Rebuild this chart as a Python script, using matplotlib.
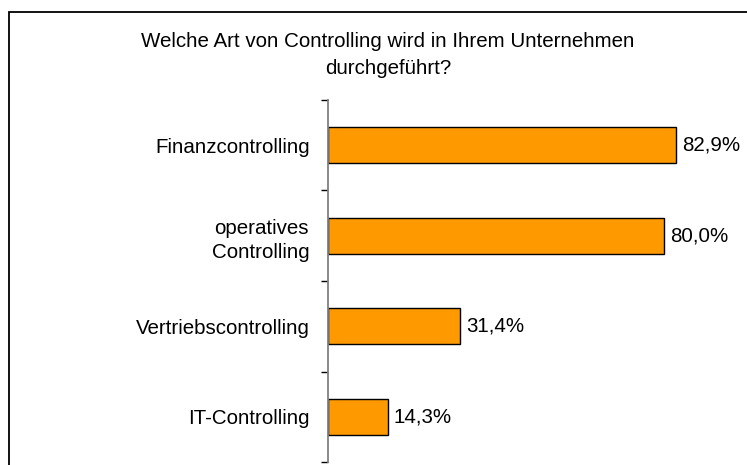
import matplotlib.pyplot as plt
from matplotlib.patches import Rectangle

# Survey data
categories = ['Finanzcontrolling', 'operatives\nControlling', 'Vertriebscontrolling', 'IT-Controlling']
shares = [82.9, 80.0, 31.4, 14.3]
value_labels = ['82,9%', '80,0%', '31,4%', '14,3%']
title = 'Welche Art von Controlling wird in Ihrem Unternehmen\ndurchgeführt?'

plt.rcParams['font.family'] = ['Liberation Sans', 'DejaVu Sans']

W, H = 747, 465
fig = plt.figure(figsize=(W / 100, H / 100), dpi=100)

# outer frame (right and bottom edges fall outside the picture)
fig.patches.append(Rectangle((9 / W, -0.1), 1.2, 1 - 12 / H + 0.1,
                             transform=fig.transFigure, fill=False,
                             edgecolor='black', linewidth=1.3))

ax = fig.add_axes([328 / W, 1 - 462 / H, 1 - 328 / W, (462 - 100) / H])

y = list(range(len(categories)))
ax.barh(y, shares, height=0.4, color='#FF9900', edgecolor='black', linewidth=1.0)

for yi, v, lab in zip(y, shares, value_labels):
    ax.text(v + 1.4, yi, lab, va='center', ha='left', fontsize=14.8)

ax.set_xlim(0, (W - 328) / 4.2)
ax.set_ylim(len(categories) - 0.5, -0.5)

ax.set_yticks(y)
ax.set_yticklabels(categories, fontsize=14.8, multialignment='center',
                   linespacing=1.35)
ax.tick_params(axis='y', which='major', length=0, pad=13)
ax.set_yticks([i - 0.5 for i in range(len(categories) + 1)], minor=True)
ax.tick_params(axis='y', which='minor', length=5, width=1, color='black', direction='out')
ax.set_xticks([])

for side in ['top', 'right', 'bottom']:
    ax.spines[side].set_visible(False)
ax.spines['left'].set_color('#808080')
ax.spines['left'].set_linewidth(1.3)

fig.text(388 / W, 1 - 55 / H, title, ha='center', va='center', fontsize=14.8,
         linespacing=1.55)

fig.savefig('out.png', dpi=100)
